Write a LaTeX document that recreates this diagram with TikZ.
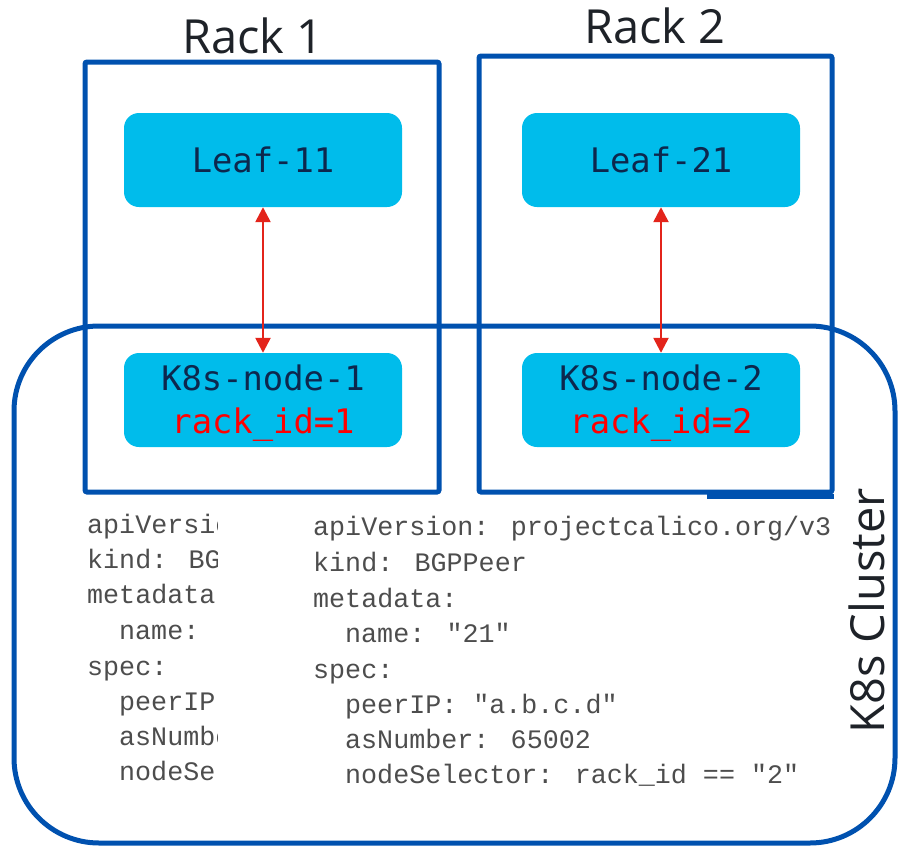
\documentclass[tikz,border=0pt]{standalone}
\usepackage{fontspec}
\usetikzlibrary{arrows.meta}
\newfontfamily\labelfont{Open Sans}
\newfontfamily\boxfont{DejaVu Sans Mono}
\newfontfamily\codefont{Liberation Mono}
\definecolor{frameblue}{RGB}{0,81,175}
\definecolor{nodecyan}{RGB}{0,188,235}
\definecolor{nodetext}{RGB}{13,39,77}
\definecolor{linkred}{RGB}{227,36,27}
\definecolor{idred}{RGB}{255,0,0}
\definecolor{codegray}{RGB}{77,77,77}
\definecolor{titletext}{RGB}{30,34,40}
\begin{document}
\begin{tikzpicture}[x=1pt,y=-1pt,
  frame/.style={draw=frameblue,line width=5pt},
  device/.style={fill=nodecyan,rounded corners=15pt,minimum width=278pt,
    minimum height=94pt,inner sep=0pt,text=nodetext,
    font=\boxfont\fontsize{33.8}{43}\selectfont},
  devtext/.style={anchor=base,inner sep=0pt,text=nodetext,
    font=\boxfont\fontsize{33.8}{43}\selectfont},
  title/.style={text=titletext,inner sep=0pt,font=\labelfont\fontsize{47}{50}\selectfont},
  code/.style={anchor=base west,inner sep=0pt,text=codegray,
    font=\codefont\fontsize{26.7}{30}\selectfont},
  link/.style={draw=linkred,line width=2.5pt,
    {Triangle[width=15pt,length=15pt]}-{Triangle[width=15pt,length=15pt]}}]
\useasboundingbox (0,0) rectangle (903,846);

% cluster outline and the two racks
\draw[frame,rounded corners=85pt] (14,326) rectangle (895,843);
\draw[frame,rounded corners=2pt] (85,62) rectangle (439,492);
\draw[frame,rounded corners=2pt] (479,56) rectangle (832,492);
\coordinate (segA) at (707,496);
\coordinate (segB) at (834,496);
\draw[frame] (segA) -- (segB);

% rack and cluster labels
\node[title,anchor=base] (rack1) at (253,53) {Rack 1};
\node[title,anchor=base] (rack2) at (655,43) {Rack 2};
\node[title,anchor=base,rotate=90] (cluster) at (884,611) {K8s Cluster};

% switches
\node[device] (leaf11) at (263,160) {Leaf-11};
\node[device] (leaf21) at (661,160) {Leaf-21};

% hosts with their rack label
\node[device] (host1) at (263,400) {};
\node[devtext] (host1name) at (263,390) {K8s-node-1};
\node[devtext,text=idred] (host1rack) at (263,433) {rack\_id=1};
\node[device] (host2) at (661,400) {};
\node[devtext] (host2name) at (661,390) {K8s-node-2};
\node[devtext,text=idred] (host2rack) at (661,433) {rack\_id=2};

% BGP sessions
\draw[link] (leaf11.south) -- (host1.north);
\draw[link] (leaf21.south) -- (host2.north);

% peer definition for rack 1 (partly hidden)
\begin{scope}
  \clip (80,500) rectangle (217,800);
  \node[code] (a1) at (87,533) {apiVersio};
  \node[code] (a2) at (87,568) {kind: BGP};
  \node[code] (a3) at (87,603) {metadata:};
  \node[code] (a4) at (119,639) {name:};
  \node[code] (a5) at (87,675) {spec:};
  \node[code] (a6) at (119,710) {peerIP:};
  \node[code] (a7) at (119,745) {asNumbe};
  \node[code] (a8) at (119,780) {nodeSel};
\end{scope}

% peer definition for rack 2
\node[code] (b1) at (313,535) {apiVersion: projectcalico.org/v3};
\node[code] (b2) at (313,571) {kind: BGPPeer};
\node[code] (b3) at (313,607) {metadata:};
\node[code] (b4) at (345,642) {name: "21"};
\node[code] (b5) at (313,678) {spec:};
\node[code] (b6) at (345,713) {peerIP: "a.b.c.d"};
\node[code] (b7) at (345,748) {asNumber: 65002};
\node[code] (b8) at (345,783) {nodeSelector: rack\_id == "2"};
\end{tikzpicture}
\end{document}
